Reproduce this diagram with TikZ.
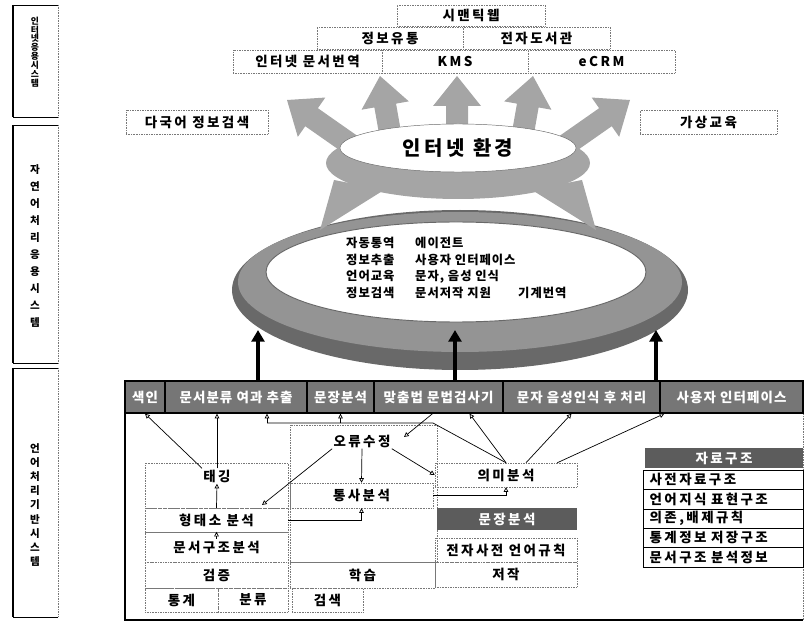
\documentclass[tikz,border=0pt]{standalone}
\usepackage{fontspec}
\setmainfont{Noto Sans CJK KR}[LetterSpace=8]
\newfontfamily\krwide{Noto Sans CJK KR}[LetterSpace=18]
\usetikzlibrary{arrows.meta,positioning,calc,shapes.geometric}

\definecolor{bargray}{RGB}{118,118,118}
\definecolor{hdrgray}{RGB}{92,92,92}
\definecolor{stargray}{RGB}{165,165,165}
\definecolor{ringgray}{RGB}{148,148,148}
\definecolor{ringdark}{RGB}{105,105,105}
\definecolor{dotgray}{RGB}{120,120,120}

% grey block arrow of the internet star: tip at (#1,#2), tilted by #3
\newcommand{\netarrow}[3]{%
  \fill[stargray, shift={(#1,#2)}, rotate=#3]
    (0,0) -- (24,30) -- (11,30) -- (11,78) -- (-11,78) -- (-11,30) -- (-24,30) -- cycle;}

\begin{document}
\begin{tikzpicture}[
    x=0.03cm, y=-0.03cm,
    webbox/.style={draw=dotgray, densely dotted, fill=white, inner sep=0pt, font=\krwide\fontsize{11.5}{13}\selectfont\bfseries},
    cell/.style={draw=black, line width=1.2pt, fill=bargray, text=white, inner sep=0pt, minimum height=0.96cm, font=\fontsize{11.5}{13}\selectfont\bfseries},
    part/.style={draw=dotgray, densely dotted, inner sep=0pt, font=\krwide\fontsize{11.5}{13}\selectfont\bfseries},
    hdr/.style={fill=hdrgray, text=white, inner sep=0pt, font=\krwide\fontsize{11.5}{13}\selectfont\bfseries},
    dsitem/.style={draw=black, thin, inner sep=0pt, minimum width=4.8cm, text width=4.4cm, align=left, minimum height=0.582cm, font=\krwide\fontsize{11.5}{13}\selectfont\bfseries},
    lbl/.style={inner sep=1pt, font=\krwide\fontsize{11.5}{13}\selectfont\bfseries},
    sysname/.style={align=center, inner sep=0pt},
    link/.style={-{Triangle[open, length=4pt, width=4pt]}, semithick},
    bigup/.style={-{Triangle[length=10pt, width=11pt]}, line width=3.5pt}
]
  \useasboundingbox (0,0) rectangle (805,624);

  % system layers on the left
  \foreach \ya/\yb in {5/117, 125/363, 368/617} {
    \draw[line width=2.5pt] (13,\ya) -- (13,\yb);
    \draw[semithick] (13,\ya) -- (58,\ya) (13,\yb) -- (58,\yb);
    \draw[densely dotted, dotgray] (58,\ya) -- (58,\yb);
  }
  \node[sysname, font=\fontsize{7.5}{7.6}\selectfont\bfseries] (sysnet) at (35,52) {인\\터\\넷\\응\\용\\시\\스\\템};
  \node[sysname, font=\fontsize{9}{14.5}\selectfont\bfseries] (sysnlp) at (35,246) {자\\연\\어\\처\\리\\응\\용\\시\\스\\템};
  \node[sysname, font=\fontsize{9}{12}\selectfont\bfseries] (sysbase) at (35,505) {언\\어\\처\\리\\기\\반\\시\\스\\템};

  % ring of NLP applications
  \fill[ringdark] (460,290) ellipse [x radius=228, y radius=80];
  \fill[ringgray] (460,282) ellipse [x radius=222, y radius=70];
  \fill[white] (456,272) ellipse [x radius=190, y radius=50];
  \draw[ringdark, thick] (456,272) ellipse [x radius=190, y radius=50];
  \node[anchor=west, align=left, inner sep=0pt, font=\fontsize{10.5}{14.2}\selectfont\bfseries] (apps) at (346,268) {%
    \makebox[2.07cm][l]{자동통역}에이전트\\
    \makebox[2.07cm][l]{정보추출}사용자 인터페이스\\
    \makebox[2.07cm][l]{언어교육}문자, 음성 인식\\
    \makebox[2.07cm][l]{정보검색}\makebox[3.09cm][l]{문서저작 지원}기계번역};

  % internet star
  \fill[stargray] (334,180) -- (384,190) -- (320,230) -- cycle;
  \fill[stargray] (582,180) -- (532,190) -- (596,230) -- cycle;
  \fill[stargray] (458,163) ellipse [x radius=132, y radius=36];
  \netarrow{380}{76}{10}
  \netarrow{457}{76}{0}
  \netarrow{533}{76}{-10}
  \netarrow{287}{100}{55}
  \netarrow{630}{100}{-55}
  \node[ellipse, draw=ringdark, fill=white, minimum width=7.08cm, minimum height=1.44cm, inner sep=0pt,
        font=\krwide\fontsize{17}{19}\selectfont\bfseries] (netenv) at (458,148) {인터넷 환경};

  % internet applications
  \node[webbox, minimum width=4.44cm, minimum height=0.63cm] (semweb) at (471,15.5) {시맨틱웹};
  \node[webbox, minimum width=4.38cm, minimum height=0.66cm] (infoflow) at (390,38) {정보유통};
  \node[webbox, minimum width=4.41cm, minimum height=0.66cm] (dlib) at (536.5,38) {전자도서관};
  \node[webbox, minimum width=4.47cm, minimum height=0.69cm] (webtrans) at (307.5,61.5) {인터넷 문서번역};
  \node[webbox, minimum width=4.38cm, minimum height=0.69cm] (kms) at (455,61.5) {KMS};
  \node[webbox, minimum width=4.41cm, minimum height=0.69cm] (ecrm) at (601.5,61.5) {eCRM};
  \node[webbox, minimum width=4.26cm, minimum height=0.72cm] (mlir) at (197,122) {다국어 정보검색};
  \node[webbox, minimum width=4.11cm, minimum height=0.72cm] (vedu) at (708.5,122) {가상교육};

  % base system frame and its top bar
  \draw[line width=2.5pt] (125,380) -- (125,620) -- (803,620);
  \draw[densely dotted, dotgray] (803,380) -- (803,620);
  \node[cell, minimum width=1.2cm] (idx) at (145,397) {색인};
  \node[cell, minimum width=4.26cm] (clsf) at (236,397) {문서분류 여과 추출};
  \node[cell, minimum width=2.01cm] (sent) at (340.5,397) {문장분석};
  \node[cell, minimum width=3.87cm] (spell) at (438.5,397) {맞춤법 문법검사기};
  \node[cell, minimum width=4.71cm] (ocr) at (581.5,397) {문자 음성인식 후 처리};
  \node[cell, minimum width=4.29cm] (ui) at (731.5,397) {사용자 인터페이스};
  \draw[line width=2pt] (125,381) -- (803,381);

  % supporting arrows into the ring
  \coordinate (ringL) at (258,330);
  \coordinate (ringM) at (455,330);
  \coordinate (ringR) at (656,330);
  \draw[bigup] (ringL |- clsf.north) -- (ringL);
  \draw[bigup] (ringM |- spell.north) -- (ringM);
  \draw[bigup] (ringR |- ui.north) -- (ringR);

  % analysis modules
  \node[part, minimum width=4.29cm, minimum height=1.35cm] (tagbox) at (216.5,485.5) {};
  \node[lbl] (tag) at (217,476) {태깅};
  \node[part, minimum width=4.29cm, minimum height=0.72cm] (morph) at (216.5,520) {형태소 분석};
  \node[part, minimum width=4.29cm, minimum height=0.9cm] (docstr) at (216.5,547) {문서구조분석};
  \node[part, minimum width=4.29cm, minimum height=0.78cm] (verif) at (216.5,575) {검증};
  \node[part, minimum width=2.19cm, minimum height=0.72cm] (stat) at (181.5,600) {통계};
  \node[part, minimum width=2.1cm, minimum height=0.72cm] (cls) at (253,600) {분류};
  \node[part, minimum width=2.13cm, minimum height=0.72cm] (srch) at (327.5,600) {검색};
  \node[part, minimum width=4.35cm, minimum height=0.78cm] (learn) at (362.5,575) {학습};
  \node[part, minimum width=4.41cm, minimum height=4.11cm] (errbox) at (363.5,493.5) {};
  \node[lbl] (err) at (362,441) {오류수정};
  \node[part, minimum width=4.29cm, minimum height=0.75cm] (syn) at (361.5,495.5) {통사분석};
  \node[part, minimum width=4.26cm, minimum height=0.72cm] (sem) at (506,475) {의미분석};
  \node[hdr, minimum width=4.2cm, minimum height=0.66cm] (sahdr) at (507,519) {문장분석};
  \node[part, minimum width=4.26cm, minimum height=0.72cm] (dict) at (506,550) {전자사전 언어규칙};
  \node[part, minimum width=4.26cm, minimum height=0.75cm] (auth) at (506,574.5) {저작};

  % data structures
  \node[hdr, minimum width=4.74cm, minimum height=0.6cm] (dshdr) at (724,458) {자료구조};
  \node[dsitem] (ds1) at (723,479.7) {사전자료구조};
  \node[dsitem] (ds2) at (723,499.1) {언어지식 표현구조};
  \node[dsitem] (ds3) at (723,518.5) {의존,배제규칙};
  \node[dsitem] (ds4) at (723,537.9) {통계정보 저장구조};
  \node[dsitem] (ds5) at (723,557.3) {문서구조 분석정보};

  % links between modules
  \coordinate (morphin) at (262,505);
  \coordinate (errin) at (404,437);
  \coordinate (bend) at (433,423);
  \coordinate (feed) at (267,423);
  \draw[link] (tag.north west) -- (idx.south);
  \draw[link] (tag.north) -- (tag.north |- clsf.south);
  \draw[link] (morph.north) -- (tag.south);
  \draw[link] ($(docstr.north)+(0,7)$) -- (docstr.north);
  \draw[link] (err.south west) -- (morphin);
  \draw[link] (err.south) -- (syn.north);
  \draw[link] (err.south east) -- (sem.west);
  \draw[link] (morph.east) -| (syn.south);
  \draw[link] (syn.east) -| (sem.south);
  \draw[semithick] (sem.north) -- (bend) -- (feed);
  \draw[link] (feed) -- (feed |- clsf.south);
  \draw[link] (sent.south |- bend) -- (sent.south);
  \draw[link] (sem.north) -- ($(spell.south)+(31,0)$);
  \draw[link] ($(sem.north)+(20,0)$) -- ($(ocr.south)+(-10,0)$);
  \draw[link] ($(sem.north east)+(-20,0)$) -- ($(ui.south west)+(5,0)$);
  \draw[link] ($(spell.south)+(-6,0)$) -- (errin);
\end{tikzpicture}
\end{document}
